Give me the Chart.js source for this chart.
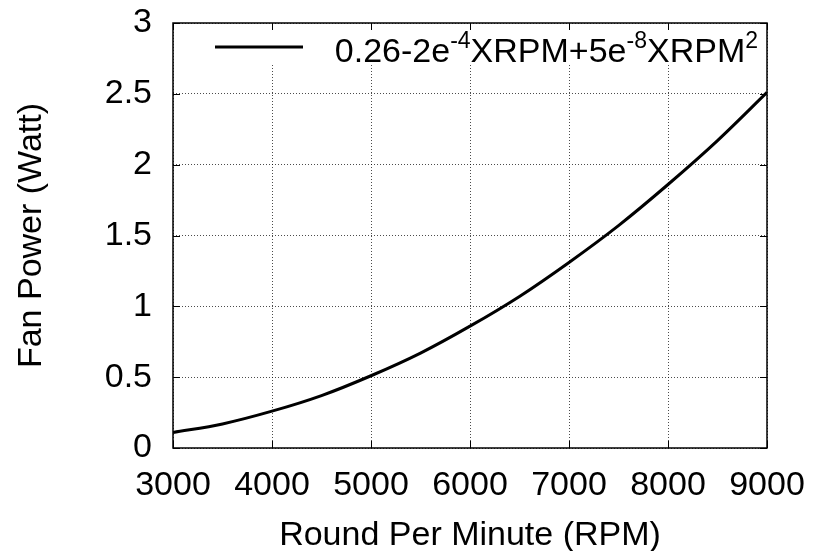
<!DOCTYPE html>
<html>
<head>
<meta charset="utf-8">
<script src="https://cdn.jsdelivr.net/npm/chart.js@4"></script>
<style>
  html, body { margin: 0; padding: 0; background: #fff; }
  #wrap { width: 817px; height: 551px; }
</style>
</head>
<body>
<div id="wrap"><canvas id="fanChart" width="817" height="551"></canvas></div>
<script>
// values
var rpm = [3000, 3500, 4000, 4500, 5000, 5500, 6000, 6500, 7000, 7500, 8000, 8500, 9000];
var power = [0.11, 0.17, 0.26, 0.37, 0.51, 0.67, 0.86, 1.07, 1.31, 1.57, 1.86, 2.17, 2.51];
var xTicks = [3000, 4000, 5000, 6000, 7000, 8000, 9000];
var yTicks = [0, 0.5, 1, 1.5, 2, 2.5, 3];
// legend label pieces: [text, superscript?]
var legendParts = [['0.26-2e', false], ['-4', true], ['XRPM+5e', false], ['-8', true], ['XRPM', false], ['2', true]];

var FONT = '"Liberation Sans", Arial, Helvetica, sans-serif';
var FS = 34;

// inward tick marks on all four sides, frame and the legend box
var framePlugin = {
    id: 'frame',
    afterDatasetsDraw: function (chart) {
        var ctx = chart.ctx, a = chart.chartArea;
        var xs = chart.scales.x, ys = chart.scales.y;
        ctx.save();

        // legend (opaque box over the grid)
        ctx.fillStyle = '#fff';
        ctx.fillRect(205, 31, a.right - 206, 34);
        ctx.strokeStyle = '#000';
        ctx.lineWidth = 3;
        ctx.beginPath();
        ctx.moveTo(215, 47);
        ctx.lineTo(303, 47);
        ctx.stroke();

        var big = FS + 'px ' + FONT, small = '23px ' + FONT;
        var total = 0;
        legendParts.forEach(function (p) {
            ctx.font = p[1] ? small : big;
            total += ctx.measureText(p[0]).width;
        });
        var tx = 758 - total, base = 62;
        ctx.fillStyle = '#000';
        ctx.textBaseline = 'alphabetic';
        ctx.textAlign = 'left';
        legendParts.forEach(function (p) {
            ctx.font = p[1] ? small : big;
            ctx.fillText(p[0], tx, p[1] ? base - 14 : base);
            tx += ctx.measureText(p[0]).width;
        });

        // ticks
        ctx.lineWidth = 1;
        ctx.beginPath();
        xTicks.forEach(function (v) {
            var px = Math.round(xs.getPixelForValue(v)) + 0.5;
            ctx.moveTo(px, a.bottom); ctx.lineTo(px, a.bottom - 7);
            ctx.moveTo(px, a.top); ctx.lineTo(px, a.top + 7);
        });
        yTicks.forEach(function (v) {
            var py = Math.round(ys.getPixelForValue(v)) + 0.5;
            ctx.moveTo(a.left, py); ctx.lineTo(a.left + 7, py);
            ctx.moveTo(a.right, py); ctx.lineTo(a.right - 7, py);
        });
        ctx.stroke();

        // frame
        ctx.lineWidth = 1.5;
        ctx.strokeRect(a.left, a.top, a.right - a.left, a.bottom - a.top);
        ctx.restore();
    }
};

var ctx1 = document.getElementById('fanChart').getContext('2d');
var fanChart = new Chart(ctx1, {
    type: 'line',
    data: {
        datasets: [{
            label: '0.26-2e-4XRPM+5e-8XRPM2',
            data: rpm.map(function (r, i) { return { x: r, y: power[i] }; }),
            borderColor: '#000',
            borderWidth: 3,
            pointRadius: 0,
            fill: false,
            cubicInterpolationMode: 'monotone'
        }]
    },
    options: {
        responsive: false,
        animation: false,
        layout: { padding: { top: 23, right: 50, left: 0, bottom: 0 } },
        plugins: {
            legend: { display: false },
            tooltip: { enabled: false }
        },
        scales: {
            x: {
                type: 'linear',
                min: 3000,
                max: 9000,
                afterBuildTicks: function (scale) {
                    scale.ticks = xTicks.map(function (v) { return { value: v }; });
                },
                afterFit: function (scale) {
                    scale.height = 103;
                    scale.paddingLeft = 0;
                    scale.paddingRight = 0;
                },
                grid: {
                    color: 'rgba(0,0,0,0.7)',
                    lineWidth: 1,
                    drawTicks: false
                },
                border: { display: false, dash: [1, 2] },
                ticks: {
                    color: '#000',
                    padding: 17,
                    maxRotation: 0,
                    font: { family: FONT, size: FS },
                    callback: function (v) { return String(v); }
                },
                title: {
                    display: true,
                    text: 'Round Per Minute (RPM)',
                    color: '#000',
                    font: { family: FONT, size: FS },
                    padding: { top: 0, bottom: -5 }
                }
            },
            y: {
                min: 0,
                max: 3,
                afterBuildTicks: function (scale) {
                    scale.ticks = yTicks.map(function (v) { return { value: v }; });
                },
                afterFit: function (scale) {
                    scale.width = 173;
                    scale.paddingTop = 0;
                    scale.paddingBottom = 0;
                },
                grid: {
                    color: 'rgba(0,0,0,0.7)',
                    lineWidth: 1,
                    drawTicks: false
                },
                border: { display: false, dash: [1, 2] },
                ticks: {
                    color: '#000',
                    padding: 21,
                    font: { family: FONT, size: FS },
                    callback: function (v) { return String(v); }
                },
                title: {
                    display: true,
                    text: 'Fan Power (Watt)',
                    color: '#000',
                    font: { family: FONT, size: FS },
                    padding: { top: 11, bottom: 0 }
                }
            }
        }
    },
    plugins: [framePlugin]
});
</script>
</body>
</html>
